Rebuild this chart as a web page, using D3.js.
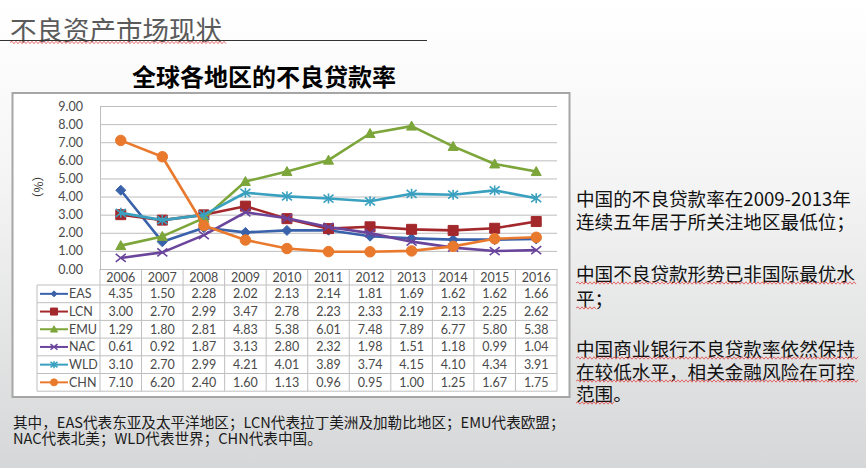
<!DOCTYPE html>
<html><head><meta charset="utf-8">
<script src="https://cdn.jsdelivr.net/npm/d3@7/dist/d3.min.js"></script>
<style>
html,body{margin:0;padding:0;background:#fff;}
svg{display:block;}
</style></head>
<body>
<svg id="chart" width="866" height="468"></svg>
<script>
// ---- data ----
const years = ['2006','2007','2008','2009','2010','2011','2012','2013','2014','2015','2016'];
const seriesNames = ['EAS','LCN','EMU','NAC','WLD','CHN'];
const EAS = [4.35,1.50,2.28,2.02,2.13,2.14,1.81,1.69,1.62,1.62,1.66];
const LCN = [3.00,2.70,2.99,3.47,2.78,2.23,2.33,2.19,2.13,2.25,2.62];
const EMU = [1.29,1.80,2.81,4.83,5.38,6.01,7.48,7.89,6.77,5.80,5.38];
const NAC = [0.61,0.92,1.87,3.13,2.80,2.32,1.98,1.51,1.18,0.99,1.04];
const WLD = [3.10,2.70,2.99,4.21,4.01,3.89,3.74,4.15,4.10,4.34,3.91];
const CHN = [7.10,6.20,2.40,1.60,1.13,0.96,0.95,1.00,1.25,1.67,1.75];
const yTicks = [0,1,2,3,4,5,6,7,8,9];
const pageTitle = '不良资产市场现状';
const chartTitle = '全球各地区的不良贷款率';
const yLabel = '（%）';
const notes = ['其中，EAS代表东亚及太平洋地区；LCN代表拉丁美洲及加勒比地区；EMU代表欧盟；','NAC代表北美；WLD代表世界；CHN代表中国。'];
const sideText = ['中国的不良贷款率在2009-2013年','连续五年居于所关注地区最低位；','中国不良贷款形势已非国际最优水','平；','中国商业银行不良贷款率依然保持','在较低水平，相关金融风险在可控','范围。'];

const seriesData = [EAS,LCN,EMU,NAC,WLD,CHN];
const colors = ['#3A62AA','#A3282C','#7CA53A','#6A459C','#3AA0BF','#E9792C'];
const markers = ['diamond','square','triangle','x','star','circle'];

const svg = d3.select('#chart');
const CJK = "'Noto Sans CJK SC','Noto Sans',sans-serif";
const LAT = "Lato,'Noto Sans CJK SC',sans-serif";

// background gradient
const defs = svg.append('defs');
const grad = defs.append('linearGradient').attr('id','bg').attr('x1',0).attr('y1',0).attr('x2',0).attr('y2',1);
grad.append('stop').attr('offset','0%').attr('stop-color','#ffffff');
grad.append('stop').attr('offset','35%').attr('stop-color','#f6f6f6');
grad.append('stop').attr('offset','100%').attr('stop-color','#d6d7d8');
svg.append('rect').attr('width',866).attr('height',468).attr('fill','url(#bg)');

function wavy(x1,x2,y){
  let p = `M${x1},${y}`; let up = true;
  for(let x=x1+2;x<=x2;x+=2){ p += `L${x},${y+(up?-1.2:1.2)}`; up=!up; }
  return p;
}

// page title
svg.append('text').attr('x',10).attr('y',28).attr('dominant-baseline','central')
  .attr('font-family',CJK).attr('font-size',26.5).attr('fill','#5a5a5a').text(pageTitle);
svg.append('line').attr('x1',0).attr('x2',427).attr('y1',40.5).attr('y2',40.5).attr('stroke','#333').attr('stroke-width',1.2);
svg.append('path').attr('d',wavy(10,226,42.5)).attr('fill','none').attr('stroke','#e04848').attr('stroke-width',0.8);

// chart title
svg.append('text').attr('x',264).attr('y',75).attr('text-anchor','middle').attr('dominant-baseline','central')
  .attr('font-family',CJK).attr('font-weight','bold').attr('font-size',24).attr('fill','#000').text(chartTitle);

// chart box
svg.append('rect').attr('x',12.5).attr('y',93).attr('width',557).attr('height',304)
  .attr('fill','#fff').attr('stroke','#a6a6a6').attr('stroke-width',2);

const plotL = 100, plotR = 557, plotT = 106, plotB = 269;
const x = d3.scaleBand().domain(years).range([plotL,plotR]);
const y = d3.scaleLinear().domain([0,9]).range([plotB,plotT]);

// gridlines
const grid = svg.append('g').attr('transform',`translate(${plotL},0)`)
  .call(d3.axisLeft(y).tickValues(yTicks).tickSize(-(plotR-plotL)).tickFormat(''));
grid.select('.domain').remove();
grid.selectAll('line').attr('stroke','#bdbdbd').attr('stroke-width',1);

// y axis labels
const ya = svg.append('g').attr('transform',`translate(${plotL},0)`)
  .call(d3.axisLeft(y).tickValues(yTicks).tickSize(0).tickPadding(17).tickFormat(d3.format('.2f')));
ya.select('.domain').attr('stroke','#bdbdbd');
ya.selectAll('text').attr('font-family',LAT).attr('font-size',12.5).attr('fill','#4a4a4a');

svg.append('text').attr('transform','translate(37,187) rotate(-90)').attr('text-anchor','middle')
  .attr('dominant-baseline','central').attr('font-family',CJK).attr('font-size',12).attr('fill','#333').text(yLabel);

// data table
const rowTop = 285, rowH = 17.7, legL = 37;
const tableBottom = rowTop + rowH*seriesNames.length;
const tg = svg.append('g');
const xa = svg.append('g').attr('transform',`translate(0,${plotB})`)
  .call(d3.axisBottom(x).tickSize(0).tickPadding(0));
xa.select('.domain').attr('stroke','#bdbdbd');
xa.selectAll('text').attr('font-family',LAT).attr('font-size',12.5).attr('fill','#4a4a4a')
  .attr('dy',null).attr('y',8).attr('dominant-baseline','central');

const bounds = years.map(d=>x(d)).concat([plotR]);
tg.selectAll('line.v').data(bounds).join('line')
  .attr('x1',d=>d).attr('x2',d=>d).attr('y1',plotB).attr('y2',tableBottom)
  .attr('stroke','#bfbfbf').attr('stroke-width',1);
tg.append('line').attr('x1',legL).attr('x2',legL).attr('y1',rowTop).attr('y2',tableBottom).attr('stroke','#bfbfbf');
const hlines = d3.range(seriesNames.length+1).map(i=>rowTop+i*rowH);
tg.selectAll('line.h').data(hlines).join('line')
  .attr('x1',legL).attr('x2',plotR).attr('y1',d=>d).attr('y2',d=>d).attr('stroke','#bfbfbf');

function markerPath(type, s){
  const h = s/2;
  switch(type){
    case 'diamond': return `M0,${-h}L${h},0L0,${h}L${-h},0Z`;
    case 'square': return `M${-h},${-h}H${h}V${h}H${-h}Z`;
    case 'triangle': return `M0,${-h}L${h},${h*0.8}L${-h},${h*0.8}Z`;
    case 'x': return `M${-h},${-h*0.8}L${h},${h*0.8}M${-h},${h*0.8}L${h},${-h*0.8}`;
    case 'star': return `M${-h},${-h*0.8}L${h},${h*0.8}M${-h},${h*0.8}L${h},${-h*0.8}M0,${-h}L0,${h}`;
    case 'circle': return d3.symbol(d3.symbolCircle, Math.PI*h*h)();
  }
}
function drawMarker(g, type, color, s){
  const open = (type==='x'||type==='star');
  g.append('path').attr('d',markerPath(type,s))
    .attr('fill',open?'none':color).attr('stroke',color).attr('stroke-width',open?1.6:1);
}

seriesNames.forEach((name,i)=>{
  const cy = rowTop + rowH*(i+0.5);
  tg.append('line').attr('x1',40).attr('x2',68).attr('y1',cy).attr('y2',cy).attr('stroke',colors[i]).attr('stroke-width',2);
  const mg = tg.append('g').attr('transform',`translate(54,${cy})`);
  drawMarker(mg, markers[i], colors[i], i===0?6:7);
  tg.append('text').attr('x',69).attr('y',cy).attr('dominant-baseline','central')
    .attr('font-family',LAT).attr('font-size',12.5).attr('fill','#4a4a4a').text(name);
  tg.selectAll(null).data(seriesData[i]).join('text')
    .attr('x',(d,j)=>x(years[j])+x.bandwidth()/2).attr('y',cy).attr('text-anchor','middle')
    .attr('dominant-baseline','central').attr('font-family',LAT).attr('font-size',12.5).attr('fill','#4a4a4a')
    .text(d=>d.toFixed(2));
});

// lines + markers
const line = d3.line().x((d,j)=>x(years[j])+x.bandwidth()/2).y(d=>y(d));
seriesNames.forEach((name,i)=>{
  const g = svg.append('g');
  g.append('path').datum(seriesData[i]).attr('d',line).attr('fill','none')
    .attr('stroke',colors[i]).attr('stroke-width',2.6).attr('stroke-linejoin','round');
  seriesData[i].forEach((v,j)=>{
    const mg = g.append('g').attr('transform',`translate(${x(years[j])+x.bandwidth()/2},${y(v)})`);
    drawMarker(mg, markers[i], colors[i], markers[i]==='circle'?10.5:10);
  });
});

// footnotes
notes.forEach((t,i)=>{
  svg.append('text').attr('x',13).attr('y',421.5+i*16).attr('dominant-baseline','central')
    .attr('font-family',CJK).attr('font-size',14.6).attr('fill','#1a1a1a').text(t);
});

// side text
const sideY = [197,220,272,297,347,370,392];
sideText.forEach((t,i)=>{
  svg.append('text').attr('x',576).attr('y',sideY[i]).attr('dominant-baseline','central')
    .attr('font-family',CJK).attr('font-size',18.6).attr('fill','#111').text(t);
});
const waveSpec = [[2,856],[3,596],[4,858],[5,858],[6,614]];
waveSpec.forEach(([i,xe])=>{
  svg.append('path').attr('d',wavy(576,xe,sideY[i]+11)).attr('fill','none').attr('stroke','#e04848').attr('stroke-width',0.8);
});
</script>
</body></html>
